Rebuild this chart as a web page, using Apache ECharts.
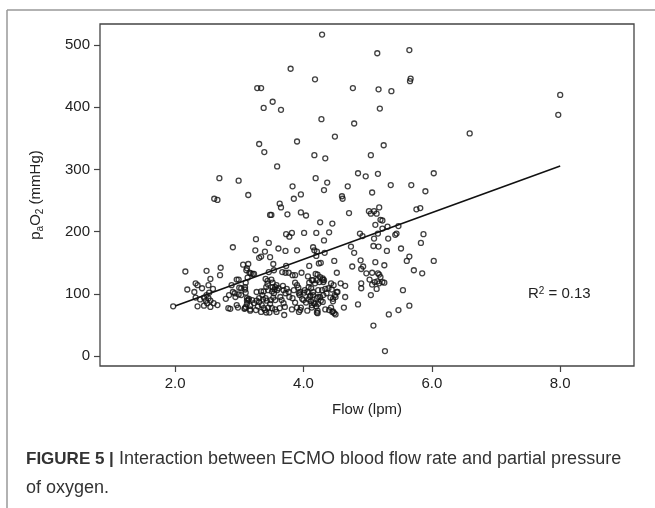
<!DOCTYPE html>
<html>
<head>
<meta charset="utf-8">
<script src="https://cdn.jsdelivr.net/npm/echarts@6/dist/echarts.min.js"></script>
<style>
html,body{margin:0;padding:0;background:#fff;}
#chart{width:655px;height:508px;}
</style>
</head>
<body>
<div id="chart"></div>
<script>
const xTicks = [2, 4, 6, 8];
const yTicks = [0, 100, 200, 300, 400, 500];
const fitLine = [[2.0, 80.5], [8.0, 305.5]];

const highPoints = [
[4.29,517],[3.80,462],[4.18,445],[3.28,431],[3.34,431],[3.52,409],[3.38,399],[3.65,396],[4.28,381],[4.49,353],
[3.31,341],[3.90,345],[3.39,328],[4.17,323],[4.34,318],[3.59,305],[2.69,286],[2.99,282],[4.19,286],[4.37,279],
[3.83,273],[4.32,267],[3.14,259],[3.96,260],[2.61,253],[2.66,251],[3.85,253],
[5.15,487],[5.65,492],[5.67,446],[5.66,442],[4.77,431],[5.17,429],[5.37,426],[5.19,398],[4.79,374],[6.59,358],
[8.00,420],[7.97,388],[5.25,339],[5.05,323],[4.85,294],[4.97,289],[5.16,293],[6.03,294],[4.69,273],[5.36,275],
[5.68,275],[5.07,263],[5.90,265],[4.60,257],[4.61,253]
];

const midPoints = [
[3.63,245],[3.65,239],[3.48,227],[3.50,227],[3.75,228],[3.96,231],[4.04,226],[4.26,215],[3.73,196],[3.78,192],
[3.82,198],[4.01,198],[4.20,198],[3.26,188],[3.46,182],[2.90,175],[3.61,173],[3.25,170],[3.40,168],[3.72,169],
[3.90,170],[4.15,175],[4.17,170],[4.21,168],[4.20,161],[3.31,158],[3.34,160],[3.48,159],[4.24,149],[3.06,147],
[3.14,148],[3.12,141],[3.11,138],[3.53,148],[3.73,145],
[4.71,230],[5.02,233],[5.05,229],[5.10,233],[5.14,229],[5.18,239],[5.20,219],[5.23,218],[5.76,236],[5.82,238],
[4.45,213],[5.12,211],[5.31,208],[5.48,209],[5.23,205],[5.16,197],[4.40,199],[4.88,197],[4.92,193],[5.43,195],
[5.45,197],[5.87,196],[4.32,186],[5.10,189],[5.32,189],[5.83,182],[4.33,166],[4.74,176],[5.09,177],[5.17,176],
[4.79,166],[5.30,169],[5.52,173],[5.65,160],[5.61,153],[6.03,153],[4.09,145],[4.27,150],[4.48,153],[4.89,154],
[4.76,144],[4.90,140],[4.93,144],[5.12,151],[5.26,146],[5.72,138],[5.85,133]
];

const leftPoints = [
[2.16,136],[2.49,137],[2.71,142],[2.70,130],[2.55,124],[2.32,117],[2.35,114],[2.42,109],[2.52,114],[2.59,108],
[2.19,107],[2.30,103],[2.53,102],[2.32,94],[2.39,91],[2.45,94],[2.49,98],[2.52,93],[2.48,89],[2.55,89],
[2.60,85],[2.66,82],[2.35,80],[2.45,81],[2.55,79],[1.97,80],[2.84,98],[2.79,92],[2.83,77],[2.93,101],
[2.99,99],[2.96,82],[2.98,78],[2.96,123],[2.99,123],[3.00,110],[2.88,114],[2.90,103],[2.94,95],[2.86,76],
[2.50,85]
];

const clusterA = [
[3.18,133],[3.13,126],[3.16,134],[3.21,132],[3.10,118],[3.09,111],[3.03,109],[3.09,107],[3.10,102],[3.03,98],
[3.15,92],[3.12,89],[3.10,79],[3.08,76],[3.17,73],[3.12,93],[3.14,90],[3.12,84],[3.09,77],[3.17,75],[3.23,132],
[3.46,135],[3.54,138],[3.41,124],[3.44,121],[3.50,123],[3.56,111],[3.58,114],[3.61,109],[3.55,107],[3.59,106],
[3.27,103],[3.34,104],[3.38,104],[3.36,98],[3.31,93],[3.27,89],[3.31,87],[3.37,91],[3.41,93],[3.43,89],
[3.35,82],[3.38,77],[3.40,74],[3.45,78],[3.48,84],[3.49,90],[3.53,94],[3.56,90],[3.56,75],[3.29,80],
[3.26,74],[3.23,85],[3.20,90],[3.17,81],[3.34,71],[3.42,70],[3.51,77],[3.47,70],
[3.44,116],[3.52,118],[3.52,111],[3.42,111],[3.45,106],[3.51,104],[3.54,101]
];

const clusterB = [
[3.68,113],[3.69,106],[3.72,101],[3.77,103],[3.78,95],[3.87,118],[3.90,114],[3.92,110],[3.95,103],[3.94,98],
[3.64,95],[3.66,90],[3.69,85],[3.71,79],[3.63,77],[3.58,71],[3.83,93],[3.87,86],[3.90,78],[3.82,75],
[3.93,71],[3.96,78],[3.70,66],[3.74,108],[3.85,106],[3.93,101],
[3.67,135],[3.72,134],[3.77,134],[3.83,130],[3.87,130],[3.97,134],[4.07,128],[4.19,132],[4.22,131],
[4.02,106],[4.06,103],[4.08,111],[4.09,118],[4.13,122],[4.18,117],[4.11,97],[4.15,98],[4.23,106],[4.23,95],
[4.00,90],[4.04,86],[4.08,91],[4.12,88],[4.16,85],[4.13,78],[4.20,80],[4.23,84],[4.22,73],[4.06,73],
[4.30,123],[4.31,119],[4.25,119],[4.21,122],[4.15,122],[4.12,109],[4.15,103],[4.29,106],[4.34,108],[4.39,109],
[4.44,107],[4.43,117],[4.36,101],[4.31,98],[4.26,95],[4.21,93],[4.18,84],[4.13,82],
[3.95,74],[3.98,92],[4.01,102],[4.10,95],[4.27,89],[4.30,87],[4.21,70]
];

const clusterC = [
[4.34,75],[4.22,69],[4.40,74],[4.45,71],[4.48,69],[4.50,67],[4.63,78],[4.85,83],[5.33,67],[5.48,74],
[5.65,81],[5.09,49],[5.27,8],
[4.52,103],[4.49,98],[4.46,92],[4.42,94],[4.65,95],[4.58,117],[4.65,113],[4.90,117],[4.90,109],[5.03,123],
[5.07,115],[5.15,120],[5.18,117],[5.26,118],[5.14,108],[5.05,98],[5.55,106],[4.52,134],[4.98,133],[5.07,134],
[5.16,133],[5.18,131],[5.20,127],[4.26,127],[4.30,125],[4.32,122],
[4.47,114],[4.53,103],[4.46,88],[4.50,95],[4.43,78],[4.46,72],[5.11,119],[5.23,119]
];

const allPoints = [].concat(highPoints, midPoints, leftPoints, clusterA, clusterB, clusterC);

const FONT = '"Liberation Sans", Arial, sans-serif';
const chart = echarts.init(document.getElementById('chart'), null, {renderer: 'canvas'});

chart.setOption({
  animation: false,
  backgroundColor: '#fff',
  grid: {
    left: 100, top: 24, width: 534, height: 342,
    show: true, borderColor: '#444', borderWidth: 1.3, backgroundColor: 'transparent'
  },
  xAxis: {
    type: 'value', min: 0.83, max: 9.15,
    name: 'Flow (lpm)', nameLocation: 'middle', nameGap: 36,
    nameTextStyle: {fontFamily: FONT, fontSize: 15, color: '#222'},
    axisLine: {show: false, onZero: false},
    splitLine: {show: false},
    axisTick: {show: true, customValues: xTicks, length: 6, lineStyle: {color: '#444', width: 1.2}},
    axisLabel: {customValues: xTicks, margin: 10, fontFamily: FONT, fontSize: 15, color: '#222',
      formatter: v => v.toFixed(1)}
  },
  yAxis: {
    type: 'value', min: -16, max: 534,
    name: 'p{sub|a}O{sub|2} (mmHg)', nameLocation: 'middle', nameGap: 55, nameRotate: 90,
    nameTextStyle: {fontFamily: FONT, fontSize: 15, color: '#222',
      rich: {sub: {fontFamily: FONT, fontSize: 10, color: '#222', verticalAlign: 'bottom', padding: [8, 0, 0, 0]}}},
    axisLine: {show: false, onZero: false},
    splitLine: {show: false},
    axisTick: {show: true, customValues: yTicks, length: 6, lineStyle: {color: '#444', width: 1.2}},
    axisLabel: {customValues: yTicks, margin: 10, fontFamily: FONT, fontSize: 15, color: '#222'}
  },
  series: [
    {
      type: 'scatter', data: allPoints, symbol: 'circle', symbolSize: 5,
      itemStyle: {color: 'rgba(255,255,255,0)', borderColor: '#111', borderWidth: 1.3},
      z: 3
    },
    {
      type: 'line', data: fitLine, symbol: 'none', lineStyle: {color: '#111', width: 1.6}, z: 4
    }
  ],
  graphic: [
    {type: 'line', shape: {x1: 7, y1: 10, x2: 655, y2: 10}, style: {stroke: '#999', lineWidth: 1.5}},
    {type: 'line', shape: {x1: 7, y1: 10, x2: 7, y2: 508}, style: {stroke: '#999', lineWidth: 1.5}},
    {type: 'text', left: 528, top: 286, style: {
      text: 'R{sup|2} = 0.13', fontFamily: FONT, fontSize: 15, fill: '#222',
      rich: {sup: {fontFamily: FONT, fontSize: 10, fill: '#222', verticalAlign: 'top', padding: [0, 0, 6, 0]}}
    }},
    {type: 'text', left: 26, top: 445, style: {
      text: '{b|FIGURE 5 |} Interaction between ECMO blood flow rate and partial pressure\nof oxygen.',
      fontFamily: FONT, fontSize: 18, fill: '#333', lineHeight: 29,
      rich: {b: {fontFamily: FONT, fontSize: 17, fontWeight: 'bold', fill: '#333', lineHeight: 29}}
    }}
  ]
});
</script>
</body>
</html>
